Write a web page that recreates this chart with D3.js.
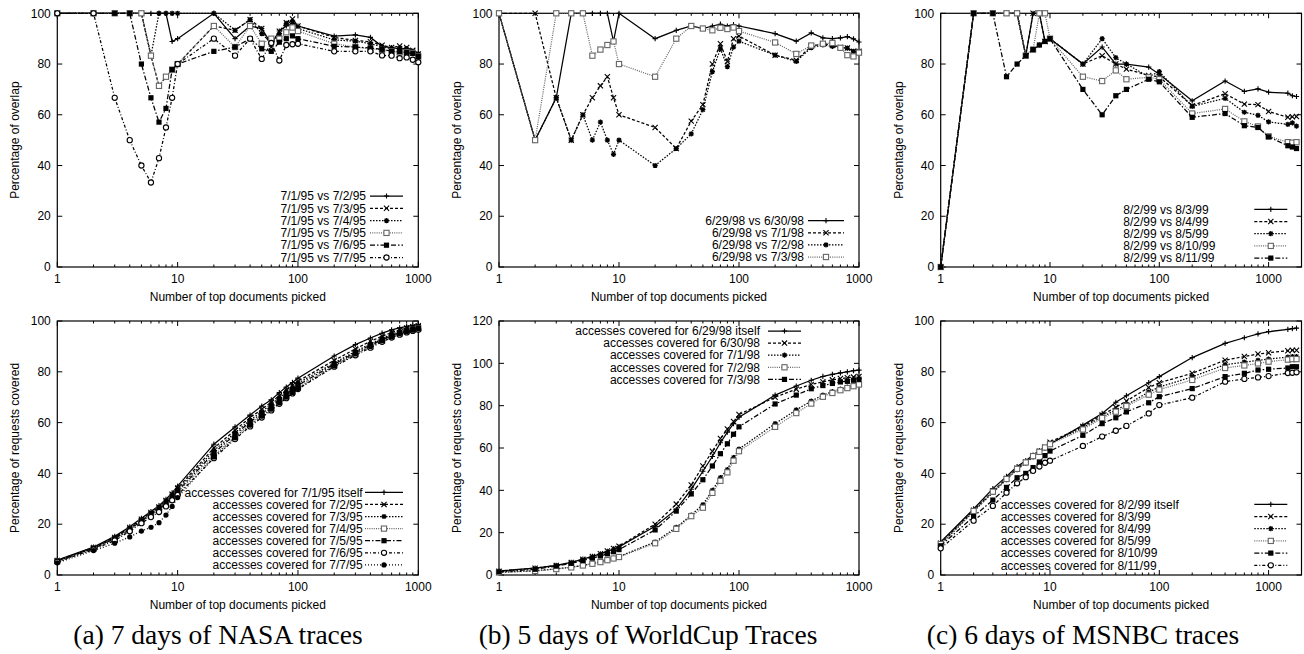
<!DOCTYPE html>
<html>
<head>
<meta charset="utf-8">
<script src="https://cdn.jsdelivr.net/npm/d3@7"></script>
<style>
  body { margin: 0; background: #fff; }
  svg text { font-family: "Liberation Sans", Arial, sans-serif; font-size: 12px; fill: #000; }
  svg text.caption { font-family: "Liberation Serif", "Times New Roman", serif; font-size: 27.5px; }
</style>
</head>
<body>
<svg id="fig" width="1304" height="654"></svg>
<script>
// number of top documents picked (x values)
const xNasa = [1,2,3,4,5,6,7,8,9,10,20,30,40,50,60,70,80,90,100,200,300,400,500,600,700,800,900,1000];
const xWorldCup = xNasa;
const xMsnbc = [1,2,3,4,5,6,7,8,9,10,20,30,40,50,80,100,200,400,600,800,1000,1500,1650,1800];

// (a) NASA - percentage of overlap
const nasaOverlapLabels = ["7/1/95 vs 7/2/95","7/1/95 vs 7/3/95","7/1/95 vs 7/4/95","7/1/95 vs 7/5/95","7/1/95 vs 7/6/95","7/1/95 vs 7/7/95"];
const nasaOv72 = [100,100,100,100,100,100,100,100,88.9,90,100,90,95,94,88,93,95,96,95,91,91.5,90.5,87,86.5,86,86,85,83.5];
const nasaOv73 = [100,100,100,100,100,83.3,71.4,75,77.8,80,95,93.3,97.5,94,86.7,92.9,96.3,97.8,95,90.5,89.3,88.8,87.4,86.5,87.1,86.5,85.4,84];
const nasaOv74 = [100,100,100,100,100,83.3,100,100,100,100,100,93.3,97.5,92,88.3,91.4,96,96.7,94,89.5,89,88,86.8,86,86.3,86,85,84];
const nasaOv75 = [100,100,100,100,100,83.3,71.4,75,77.8,80,95,86.7,95,88,90,90,92.5,94.4,93,88,86.7,86,85.6,85,84.6,84.6,84.4,83];
const nasaOv76 = [100,100,100,100,80,66.7,57.1,62.5,77.8,80,85,86.7,90,86,85,88.6,90,91.1,90,87,86.7,86.3,85.8,85,84.9,84.5,84.2,83];
const nasaOv77 = [100,100,66.7,50,40,33.3,42.9,55,66.7,80,90,83.3,90,82,88.3,81.4,87.5,87.8,88,85,85,85,83.4,83.3,82.3,82.6,81.7,80.7];

// (b) WorldCup - percentage of overlap
const wcOverlapLabels = ["6/29/98 vs 6/30/98","6/29/98 vs 7/1/98","6/29/98 vs 7/2/98","6/29/98 vs 7/3/98"];
const wcOv630 = [100,50,66.7,100,100,100,100,100,88.9,100,90,93.3,95,94,95,95.7,95,95.5,95,92,89,92.3,90.3,90,90.3,90.8,89.9,88.7];
const wcOv71 = [100,100,66.7,50,60,66.7,71.4,75,66.7,60,55,46.7,57.5,64,80,88,81,90,91,83.5,81.5,87,88,87.5,86.5,86.3,85,85];
const wcOv72 = [100,50,66.7,50,60,50,57.1,50,44.4,50,40,46.7,52.5,62,77,86,79,86.7,89,83.5,81,86.5,87.5,87,86.5,86.3,85,84.5];
const wcOv73 = [100,50,100,100,100,83.3,85.7,87.5,88.9,80,75,90,95,94,93.3,94.3,93.8,94.4,93,88.5,84,87.3,88,88.3,86.4,83.5,83,84.5];

// (c) MSNBC - percentage of overlap
const msOverlapLabels = ["8/2/99 vs 8/3/99","8/2/99 vs 8/4/99","8/2/99 vs 8/5/99","8/2/99 vs 8/10/99","8/2/99 vs 8/11/99"];
const msOv83 = [0,100,100,100,100,83.3,100,100,88.9,90,80,86.7,80,80,78.8,76,65.5,73.3,69.2,70.2,68.9,68.5,67.5,67.2];
const msOv84 = [0,100,100,100,100,83.3,100,100,88.9,90,80,83.3,80,78,75.5,75,63.6,68.3,64.2,64,61.3,59,59.2,59.3];
const msOv85 = [0,100,100,100,100,83.3,85.7,87.5,88.9,90,80,90,82.5,80,75,77,63.3,66.5,61,59.8,57.2,56.2,56.8,55.5];
const msOv810 = [0,100,100,100,100,83.3,85.7,100,100,90,75,73.3,77.5,74,74.8,74,60.5,62.3,57.4,55.4,51.5,49.2,49,49.2];
const msOv811 = [0,100,100,75,80,83.3,85.7,87.5,88.9,90,70,60,67.5,70,74,73,59,60.5,55.7,55,51.3,47.8,47.3,46.7];

// (a) NASA - percentage of requests covered
const nasaCovLabels = ["accesses covered for 7/1/95 itself","accesses covered for 7/2/95","accesses covered for 7/3/95","accesses covered for 7/4/95","accesses covered for 7/5/95","accesses covered for 7/6/95","accesses covered for 7/7/95"];
const nasaCov71 = [5.9,11,15.2,19,22.3,25,27.3,29.8,32.3,35,51.5,58.3,63,66.5,69,71.8,74,75.8,77.5,86.2,90.7,93.3,95.2,96.5,97.3,97.9,98.3,98.6];
const nasaCov72 = [5.7,10.8,14.8,18.7,22,24.6,26.8,29.3,31.8,34.2,50,57,62,65.2,68,70.6,72.8,74.6,76.3,84.5,89,92,94,95.5,96.5,97.2,97.7,98.1];
const nasaCov73 = [5.6,10.6,14.5,18.3,21.6,24.2,26.4,28.8,31.3,33.6,49,56,61,64.3,67.2,69.8,72,73.8,75.5,83.5,88,91,93.2,94.8,95.8,96.6,97.2,97.6];
const nasaCov74 = [5.4,10.3,14,17.7,21,23.5,25.6,27.8,30.2,32.4,47,54.5,59.5,63,65.8,68.4,70.5,72.4,74,82.5,87,90,92.3,94,95.1,96,96.6,97.1];
const nasaCov75 = [5.5,10.5,14.3,18,21.3,23.9,26,28.3,30.8,33,48,55.3,60.3,63.6,66.4,69,71.2,73,74.7,83,87.6,90.5,92.7,94.3,95.4,96.2,96.8,97.2];
const nasaCov76 = [5.2,10,13.6,17.2,20.4,22.8,24.8,27,29.4,31.5,46,53.5,58.5,62,64.8,67.4,69.6,71.5,73.2,82,86.5,89.5,91.8,93.5,94.6,95.5,96.1,96.6];
const nasaCov77 = [4.8,9.6,12.5,15,17.3,18.8,20.6,23.6,27,30.5,46.5,54,59,62.5,65.3,67.8,70,71.8,73.4,82.3,87,90,92.2,93.8,95,95.8,96.4,96.9];

// (b) WorldCup - percentage of requests covered
const wcCovLabels = ["accesses covered for 6/29/98 itself","accesses covered for 6/30/98","accesses covered for 7/1/98","accesses covered for 7/2/98","accesses covered for 7/3/98"];
const wcCovItself = [1.9,3.3,4.6,6,7.5,8.8,10,11.2,12.3,13.3,23,31,40.5,49,56,62.5,67.5,71.5,74.5,85,89.3,92,93.8,94.8,95.5,96,96.5,96.8];
const wcCov630 = [1.8,3.2,4.5,5.9,7.4,8.7,10,11.3,12.5,13.6,24,33.5,42.5,51.5,58.5,64.5,69,72.5,75.8,84,87.8,90,91.3,92.2,92.8,93.2,93.5,93.8];
const wcCov71 = [1.3,2,2.9,3.7,4.6,5.4,6.2,7.1,7.9,8.7,15.6,22.5,28.3,33.2,40,46,49.8,55.5,59.5,71.5,78,82.2,85,86.6,87.8,88.8,89.5,90.5];
const wcCov72 = [1.2,1.9,2.8,3.6,4.5,5.3,6.1,7,7.8,8.5,15,21.8,27.8,31.8,38.8,44.5,48.5,54,58.5,70,76.5,81,84.2,86,87.3,88.3,89.2,90];
const wcCov73 = [1.5,2.7,4.2,5.5,6.8,8,9,10,11,12,21.3,30.2,38.3,45,51.5,57.3,62,66.5,70,80.8,85,88,89.5,90.5,91.2,91.5,92,92.5];

// (c) MSNBC - percentage of requests covered
const msCovLabels = ["accesses covered for 8/2/99 itself","accesses covered for 8/3/99","accesses covered for 8/4/99","accesses covered for 8/5/99","accesses covered for 8/10/99","accesses covered for 8/11/99"];
const msCovItself = [13,26,34,38.8,42.7,45,47.2,49,50,51.5,59,63.6,68,70.6,75.7,78.1,85.6,91.2,93.4,94.9,95.8,96.7,97,97.2];
const msCov83 = [12.5,25.5,33,38,42,44.5,47,48.7,50.3,52.3,58.5,63,66,68.5,73.8,75.7,79.4,84.6,86,87,87.5,88.3,88.5,88.5];
const msCov84 = [12,25,32.5,37.5,41.5,44,46.5,48.3,50,51.8,58,62.3,65,67,72,74,78,82.8,83.8,84.5,85,85.8,86,86];
const msCov85 = [12.2,25.2,32.8,37.8,41.8,44.3,46.8,48.5,50.2,51.5,57.3,61.8,64.3,66.5,71,73,76.8,81.5,82.5,83.3,84,84.8,85,85];
const msCov810 = [11.5,23,29.5,34.5,38.3,40,42.3,44.5,47,48.8,55,59.6,61.9,64.2,67.8,70.2,73.4,78.1,79.4,80.7,81,81.5,82,82];
const msCov811 = [10.5,21.4,27.2,32.4,36.1,38.5,41,42.7,44.2,45,50.8,54.5,56.8,58.7,63.6,66.9,69.8,76.1,77.2,77.8,78.3,79.5,79.6,79.8];

const captions = ["(a) 7 days of NASA traces", "(b) 5 days of WorldCup Traces", "(c) 6 days of MSNBC traces"];

// gnuplot-like line types: dash pattern, point type, colour
const lineTypes = [
  { dash: null, pt: "plus", color: "#000" },
  { dash: "3,2", pt: "cross", color: "#000" },
  { dash: "1.5,1.5", pt: "star", color: "#000" },
  { dash: "1,1.2", pt: "box", color: "#666" },
  { dash: "5,2,1.5,2", pt: "boxf", color: "#000" },
  { dash: "3,2,1,2", pt: "circle", color: "#000" },
  { dash: "1,2", pt: "circlef", color: "#000" },
];

const svg = d3.select("#fig");

const cols = [
  { left: 57.3, right: 418.3, ylabX: 15 },
  { left: 499, right: 859, ylabX: 456.7 },
  { left: 940.7, right: 1301.5, ylabX: 899 },
];
const rows = [
  { top: 13.3, bottom: 267 },
  { top: 321, bottom: 575 },
];

const panels = [
  { col: 0, row: 0, xs: xNasa, xMax: 1000, yMax: 100, ylabel: "Percentage of overlap",
    series: [nasaOv72, nasaOv73, nasaOv74, nasaOv75, nasaOv76, nasaOv77], labels: nasaOverlapLabels,
    types: [0, 1, 2, 3, 4, 5], legend: { align: "end", textX: 366, lineX: [370, 403], y0: 196, dy: 12.3 } },
  { col: 1, row: 0, xs: xWorldCup, xMax: 1000, yMax: 100, ylabel: "Percentage of overlap",
    series: [wcOv630, wcOv71, wcOv72, wcOv73], labels: wcOverlapLabels,
    types: [0, 1, 2, 3], legend: { align: "end", textX: 804, lineX: [808, 844], y0: 220.7, dy: 12.1 } },
  { col: 2, row: 0, xs: xMsnbc, xMax: 2000, yMax: 100, ylabel: "Percentage of overlap",
    series: [msOv83, msOv84, msOv85, msOv810, msOv811], labels: msOverlapLabels,
    types: [0, 1, 2, 3, 4], legend: { align: "start", textX: 1123.3, lineX: [1254.3, 1287.3], y0: 209.3, dy: 12.2 } },
  { col: 0, row: 1, xs: xNasa, xMax: 1000, yMax: 100, ylabel: "Percentage of requests covered",
    series: [nasaCov71, nasaCov72, nasaCov73, nasaCov74, nasaCov75, nasaCov76, nasaCov77], labels: nasaCovLabels,
    types: [0, 1, 2, 3, 4, 5, 6], legend: { align: "end", textX: 362.7, lineX: [365, 403], y0: 492.3, dy: 12.1 } },
  { col: 1, row: 1, xs: xWorldCup, xMax: 1000, yMax: 120, ylabel: "Percentage of requests covered",
    series: [wcCovItself, wcCov630, wcCov71, wcCov72, wcCov73], labels: wcCovLabels,
    types: [0, 1, 2, 3, 4], legend: { align: "end", textX: 760, lineX: [768, 801], y0: 331, dy: 12.1 } },
  { col: 2, row: 1, xs: xMsnbc, xMax: 2000, yMax: 100, ylabel: "Percentage of requests covered",
    series: [msCovItself, msCov83, msCov84, msCov85, msCov810, msCov811], labels: msCovLabels,
    types: [0, 1, 2, 3, 4, 5], legend: { align: "start", textX: 1000.7, lineX: [1254.3, 1287.3], y0: 504.3, dy: 12.2 } },
];

function drawPoint(g, type, x, y, color) {
  const s = 2.6;
  if (type === "plus") {
    g.append("path").attr("d", `M${x - s},${y}H${x + s}M${x},${y - s}V${y + s}`).attr("stroke", color).attr("stroke-width", 1.1);
  } else if (type === "cross") {
    g.append("path").attr("d", `M${x - s},${y - s}L${x + s},${y + s}M${x - s},${y + s}L${x + s},${y - s}`).attr("stroke", color).attr("stroke-width", 1.1);
  } else if (type === "star") {
    g.append("path").attr("d", `M${x - s},${y}H${x + s}M${x},${y - s}V${y + s}M${x - 1.9},${y - 1.9}L${x + 1.9},${y + 1.9}M${x - 1.9},${y + 1.9}L${x + 1.9},${y - 1.9}`)
      .attr("stroke", color).attr("stroke-width", 1.3);
  } else if (type === "box") {
    g.append("rect").attr("x", x - s).attr("y", y - s).attr("width", 2 * s).attr("height", 2 * s)
      .attr("fill", "#fff").attr("stroke", color).attr("stroke-width", 1.1);
  } else if (type === "boxf") {
    g.append("rect").attr("x", x - s).attr("y", y - s).attr("width", 2 * s).attr("height", 2 * s).attr("fill", "#000");
  } else if (type === "circle") {
    g.append("circle").attr("cx", x).attr("cy", y).attr("r", s).attr("fill", "#fff").attr("stroke", color).attr("stroke-width", 1.1);
  } else if (type === "circlef") {
    g.append("circle").attr("cx", x).attr("cy", y).attr("r", s).attr("fill", "#000");
  }
}

panels.forEach((p) => {
  const c = cols[p.col];
  const r = rows[p.row];
  const g = svg.append("g");

  const x = d3.scaleLog().domain([1, p.xMax]).range([c.left, c.right]);
  const y = d3.scaleLinear().domain([0, p.yMax]).range([r.bottom, r.top]);

  // log ticks (major at decades, minor in between), drawn inward on both sides
  const major = [1, 10, 100, 1000].filter((v) => v <= p.xMax);
  const minor = [];
  [1, 10, 100, 1000].forEach((d) => {
    for (let k = 2; k <= 9; k++) if (d * k < p.xMax) minor.push(d * k);
  });
  const ticks = g.append("g").attr("stroke", "#000").attr("stroke-width", 1);
  major.forEach((v) => {
    ticks.append("line").attr("x1", x(v)).attr("x2", x(v)).attr("y1", r.bottom).attr("y2", r.bottom - 5);
    ticks.append("line").attr("x1", x(v)).attr("x2", x(v)).attr("y1", r.top).attr("y2", r.top + 5);
  });
  minor.forEach((v) => {
    ticks.append("line").attr("x1", x(v)).attr("x2", x(v)).attr("y1", r.bottom).attr("y2", r.bottom - 2.5);
    ticks.append("line").attr("x1", x(v)).attr("x2", x(v)).attr("y1", r.top).attr("y2", r.top + 2.5);
  });
  const yTicks = d3.range(0, p.yMax + 1, 20);
  yTicks.forEach((v) => {
    ticks.append("line").attr("x1", c.left).attr("x2", c.left + 5).attr("y1", y(v)).attr("y2", y(v));
    ticks.append("line").attr("x1", c.right).attr("x2", c.right - 5).attr("y1", y(v)).attr("y2", y(v));
  });

  // tick labels
  major.forEach((v) => {
    g.append("text").attr("x", x(v)).attr("y", r.bottom + 16).attr("text-anchor", "middle").text(v);
  });
  yTicks.forEach((v) => {
    g.append("text").attr("x", c.left - 6.5).attr("y", y(v)).attr("dy", "0.35em").attr("text-anchor", "end").text(v);
  });

  // frame
  g.append("rect").attr("x", c.left).attr("y", r.top).attr("width", c.right - c.left).attr("height", r.bottom - r.top)
    .attr("fill", "none").attr("stroke", "#000").attr("stroke-width", 1.2);

  // axis titles
  g.append("text").attr("x", (c.left + c.right) / 2).attr("y", r.bottom + 34).attr("text-anchor", "middle")
    .text("Number of top documents picked");
  g.append("text").attr("transform", `translate(${c.ylabX},${(r.top + r.bottom) / 2}) rotate(-90)`)
    .attr("dy", "0.35em").attr("text-anchor", "middle").text(p.ylabel);

  // series
  const line = d3.line().x((d) => x(d[0])).y((d) => y(d[1]));
  p.series.forEach((vals, i) => {
    const lt = lineTypes[p.types[i]];
    const pts = p.xs.map((xv, j) => [xv, vals[j]]);
    g.append("path").datum(pts).attr("d", line).attr("fill", "none")
      .attr("stroke", lt.color).attr("stroke-width", 1.25)
      .attr("stroke-dasharray", lt.dash);
    const mg = g.append("g");
    pts.forEach((d) => drawPoint(mg, lt.pt, x(d[0]), y(d[1]), lt.color));
  });

  // key
  const L = p.legend;
  p.labels.forEach((lab, i) => {
    const lt = lineTypes[p.types[i]];
    const yy = L.y0 + i * L.dy;
    g.append("text").attr("x", L.textX).attr("y", yy).attr("dy", "0.35em").attr("text-anchor", L.align).text(lab);
    g.append("line").attr("x1", L.lineX[0]).attr("x2", L.lineX[1]).attr("y1", yy).attr("y2", yy)
      .attr("stroke", lt.color).attr("stroke-width", 1.25).attr("stroke-dasharray", lt.dash);
    drawPoint(g, lt.pt, (L.lineX[0] + L.lineX[1]) / 2, yy, lt.color);
  });
});

// sub-figure captions
const capX = [218, 648, 1083];
captions.forEach((t, i) => {
  svg.append("text").attr("class", "caption").attr("x", capX[i]).attr("y", 644)
    .attr("text-anchor", "middle").text(t);
});
</script>
</body>
</html>
